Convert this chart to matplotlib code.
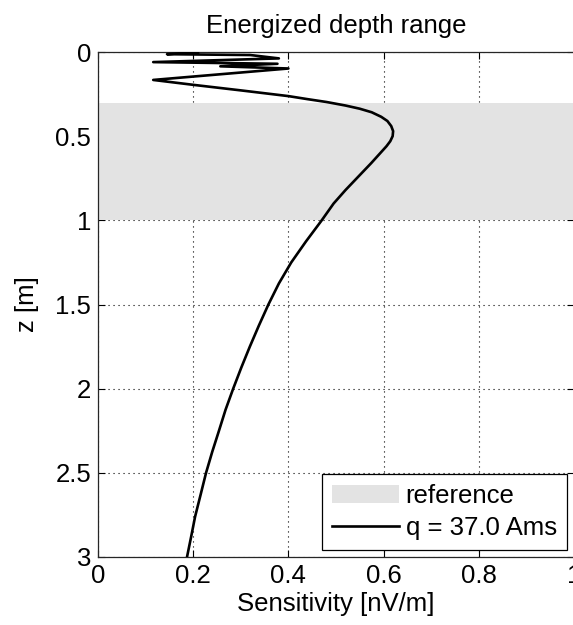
import matplotlib
matplotlib.use("Agg")
import matplotlib.pyplot as plt
from matplotlib.patches import Patch
from matplotlib.lines import Line2D

# Sensitivity profile versus depth
depth = [0.000, 0.013, 0.018, 0.038, 0.060, 0.070, 0.085, 0.098, 0.166, 0.195,
         0.228, 0.262, 0.280, 0.297, 0.318, 0.337, 0.358, 0.385, 0.410, 0.440,
         0.470, 0.500, 0.530, 0.560, 0.610, 0.660, 0.740, 0.820, 0.900, 1.000,
         1.125, 1.250, 1.375, 1.500, 1.625, 1.750, 1.875, 2.000, 2.125, 2.260,
         2.375, 2.500, 2.625, 2.760, 2.875, 3.000]
sensitivity = [0.210, 0.145, 0.320, 0.380, 0.116, 0.377, 0.257, 0.400, 0.116, 0.200,
               0.300, 0.400, 0.440, 0.480, 0.520, 0.550, 0.575, 0.595, 0.608, 0.616,
               0.620, 0.619, 0.614, 0.606, 0.590, 0.574, 0.547, 0.520, 0.495, 0.470,
               0.437, 0.406, 0.380, 0.358, 0.338, 0.319, 0.301, 0.284, 0.268, 0.253,
               0.240, 0.227, 0.216, 0.204, 0.196, 0.187]

# Energized depth band
band_top = 0.3
band_bottom = 1.0

x_ticks = [0, 0.2, 0.4, 0.6, 0.8, 1]
x_tick_labels = ["0", "0.2", "0.4", "0.6", "0.8", "1"]
y_ticks = [0, 0.5, 1, 1.5, 2, 2.5, 3]
y_tick_labels = ["0", "0.5", "1", "1.5", "2", "2.5", "3"]

pulse_label = "q = 37.0 Ams"
band_label = "reference"

plt.rcParams["font.family"] = ["Liberation Sans", "DejaVu Sans"]
FS = 18.5

fig = plt.figure(figsize=(5.73, 6.25), dpi=100)
ax = fig.add_axes([98 / 573, 1 - 557 / 625, 476 / 573, 505 / 625])

band_color = "#e3e3e3"
ax.axhspan(band_top, band_bottom, color=band_color, lw=0, zorder=1)
ax.plot(sensitivity, depth, color="black", lw=1.9, zorder=3,
        solid_joinstyle="round")

ax.set_xlim(0, 1)
ax.set_ylim(3, 0)
ax.set_xticks(x_ticks)
ax.set_xticklabels(x_tick_labels)
ax.set_yticks(y_ticks)
ax.set_yticklabels(y_tick_labels)
ax.tick_params(direction="in", length=5, width=0.8, top=True, right=True,
               labelsize=FS, pad=5, colors="black")
ax.set_axisbelow(True)
ax.grid(True, color="black", linestyle=(0, (1, 3.5)), linewidth=0.8)
for s in ax.spines.values():
    s.set_linewidth(0.9)
    s.set_color("#262626")

ax.set_title("Energized depth range", fontsize=FS, pad=14)
ax.set_xlabel("Sensitivity [nV/m]", fontsize=FS, labelpad=3)
ax.set_ylabel("z [m]", fontsize=FS, labelpad=12)

handles = [Patch(facecolor=band_color, edgecolor="none"),
           Line2D([0], [0], color="black", lw=1.9)]
leg = ax.legend(handles, [band_label, pulse_label], loc="lower right",
                bbox_to_anchor=(469 / 476, 7 / 505), borderaxespad=0,
                fontsize=FS, frameon=True, fancybox=False, framealpha=1,
                edgecolor="black", handlelength=2.6, handletextpad=0.25,
                borderpad=0.4, labelspacing=0.3)
leg.get_frame().set_linewidth(0.9)

fig.savefig("out.png", dpi=100)
